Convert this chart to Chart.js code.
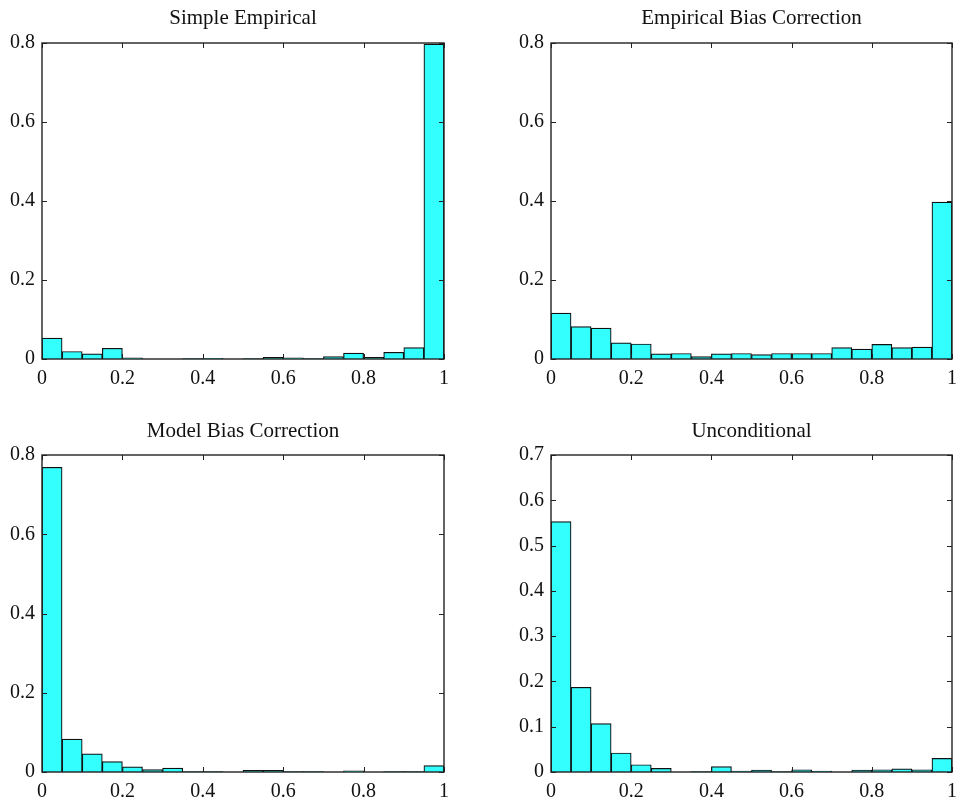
<!DOCTYPE html>
<html><head><meta charset="utf-8">
<script src="https://cdn.jsdelivr.net/npm/chart.js@4"></script>
<style>
html,body{margin:0;padding:0;background:#fff;}
body{width:960px;height:803px;position:relative;overflow:hidden;}
canvas{position:absolute;}
</style></head><body>
<canvas id="c1" width="480" height="400" style="left:0;top:0;width:480px;height:400px"></canvas>
<canvas id="c2" width="480" height="400" style="left:480px;top:0;width:480px;height:400px"></canvas>
<canvas id="c3" width="480" height="403" style="left:0;top:400px;width:480px;height:403px"></canvas>
<canvas id="c4" width="480" height="403" style="left:480px;top:400px;width:480px;height:403px"></canvas>
<script>
// Histogram bins (centres of 20 bins of width 0.05 on [0,1])
const binCenters = [0.025,0.075,0.125,0.175,0.225,0.275,0.325,0.375,0.425,0.475,
                    0.525,0.575,0.625,0.675,0.725,0.775,0.825,0.875,0.925,0.975];
const simpleEmpirical = [0.053,0.019,0.013,0.027,0.003,0,0,0.001,0.002,0,
                         0.001,0.004,0.003,0.001,0.006,0.015,0.004,0.017,0.029,0.797];
const empiricalBias = [0.116,0.082,0.078,0.041,0.038,0.013,0.014,0.006,0.013,0.014,
                       0.011,0.014,0.014,0.014,0.029,0.025,0.037,0.029,0.030,0.397];
const modelBias = [0.769,0.083,0.046,0.026,0.013,0.006,0.010,0.001,0.001,0,
                   0.004,0.004,0.001,0.001,0,0.003,0,0.001,0.001,0.016];
const unconditional = [0.553,0.187,0.107,0.042,0.016,0.008,0,0.001,0.012,0.002,
                       0.004,0.001,0.005,0.002,0,0.004,0.005,0.007,0.005,0.030];
const titles = ['Simple Empirical','Empirical Bias Correction','Model Bias Correction','Unconditional'];
const xTickLabels = ['0','0.2','0.4','0.6','0.8','1'];
const yTickLabels08 = ['0','0.2','0.4','0.6','0.8'];
const yTickLabels07 = ['0','0.1','0.2','0.3','0.4','0.5','0.6','0.7'];

const FONT = '"Liberation Serif", "Times New Roman", serif';
const TICK_COLOR = '#222';

function framePlugin(title, titleY){
  return {
    id: 'frame',
    afterDraw(chart){
      const {ctx, chartArea:a, scales:{x,y}} = chart;
      ctx.save();
      ctx.strokeStyle = TICK_COLOR;
      ctx.lineWidth = 1;
      ctx.beginPath();
      x.ticks.forEach(t => {
        const px = Math.round(x.getPixelForValue(t.value)) + 0.5;
        ctx.moveTo(px, a.bottom); ctx.lineTo(px, a.bottom - 5);
        ctx.moveTo(px, a.top); ctx.lineTo(px, a.top + 5);
      });
      y.ticks.forEach(t => {
        const py = Math.round(y.getPixelForValue(t.value)) + 0.5;
        ctx.moveTo(a.left, py); ctx.lineTo(a.left + 5, py);
        ctx.moveTo(a.right, py); ctx.lineTo(a.right - 5, py);
      });
      ctx.stroke();
      ctx.lineWidth = 1.4;
      ctx.strokeRect(a.left, a.top, a.right - a.left, a.bottom - a.top);
      ctx.fillStyle = '#111';
      ctx.font = '21px ' + FONT;
      ctx.textAlign = 'center';
      ctx.textBaseline = 'alphabetic';
      ctx.fillText(title, (a.left + a.right) / 2, titleY);
      ctx.restore();
    }
  };
}

function makeChart(id, title, values, yMax, yStep, yLabels, o){
  new Chart(document.getElementById(id), {
    type: 'bar',
    data: {
      datasets: [{
        data: binCenters.map((c, i) => ({x: c, y: values[i]})),
        backgroundColor: '#33ffff',
        borderColor: '#111',
        borderWidth: 1.2,
        barPercentage: 1,
        categoryPercentage: 1
      }]
    },
    options: {
      responsive: false,
      animation: false,
      devicePixelRatio: 1,
      layout: {padding: {top: o.padTop, right: o.padRight, left: 0, bottom: 0}},
      plugins: {legend: {display: false}, tooltip: {enabled: false}, title: {display: false}},
      scales: {
        x: {
          type: 'linear', min: 0, max: 1, offset: false,
          grid: {display: false, drawTicks: false, offset: false},
          border: {display: false},
          ticks: {stepSize: 0.2, padding: 8, color: '#111', font: {family: FONT, size: 20},
                  maxRotation: 0, autoSkip: false,
                  callback: (v, i) => xTickLabels[i]},
          afterFit: s => { s.height = o.xAxisHeight; s.paddingLeft = 0; s.paddingRight = 0; }
        },
        y: {
          min: 0, max: yMax,
          grid: {display: false, drawTicks: false},
          border: {display: false},
          ticks: {stepSize: yStep, padding: 7, color: '#111', font: {family: FONT, size: 20},
                  callback: (v, i) => yLabels[i]},
          afterFit: s => { s.width = o.yAxisWidth; }
        }
      }
    },
    plugins: [framePlugin(title, o.titleY)]
  });
}

makeChart('c1', titles[0], simpleEmpirical, 0.8, 0.2, yTickLabels08,
  {padTop: 43, padRight: 36, xAxisHeight: 41, yAxisWidth: 42, titleY: 24});
makeChart('c2', titles[1], empiricalBias, 0.8, 0.2, yTickLabels08,
  {padTop: 43, padRight: 8, xAxisHeight: 41, yAxisWidth: 71, titleY: 24});
makeChart('c3', titles[2], modelBias, 0.8, 0.2, yTickLabels08,
  {padTop: 55, padRight: 36, xAxisHeight: 31, yAxisWidth: 42, titleY: 37});
makeChart('c4', titles[3], unconditional, 0.7, 0.1, yTickLabels07,
  {padTop: 55, padRight: 8, xAxisHeight: 31, yAxisWidth: 71, titleY: 37});
</script>
</body></html>
